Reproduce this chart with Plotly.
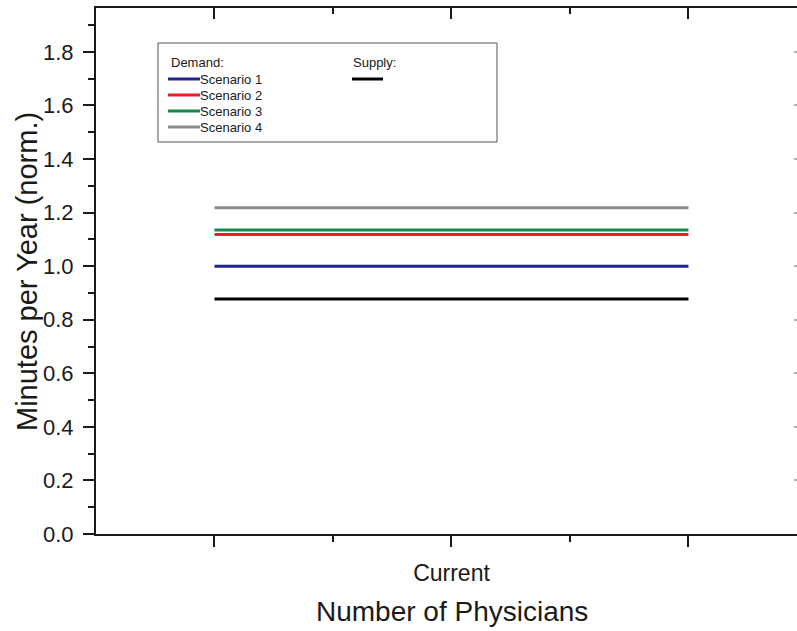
import plotly.graph_objects as go

x_vals = [0, 1, 2]
x_ticktext = ["", "Current", ""]
series_names = ["Scenario 1", "Scenario 2", "Scenario 3", "Scenario 4"]
scenario1 = [1.0, 1.0, 1.0]
scenario2 = [1.118, 1.118, 1.118]
scenario3 = [1.135, 1.135, 1.135]
scenario4 = [1.218, 1.218, 1.218]
supply = [0.877, 0.877, 0.877]
y_ticks = [0.0, 0.2, 0.4, 0.6, 0.8, 1.0, 1.2, 1.4, 1.6, 1.8]
colors = ["#22228c", "#e8202a", "#168a48", "#8c8c8c"]
supply_color = "#000000"

W, H = 797, 631
ML, MR, MT, MB = 96, 0, 8, 97
x_range = [-0.5, 2.458]
y_range = [0, 1.964]

fig = go.Figure()
demand = [scenario1, scenario2, scenario3, scenario4]
for name, vals, c in zip(series_names, demand, colors):
    fig.add_trace(go.Scatter(x=x_vals, y=vals, mode="lines", name=name,
                             line=dict(color=c, width=3), showlegend=False))
fig.add_trace(go.Scatter(x=x_vals, y=supply, mode="lines", name="Supply",
                         line=dict(color=supply_color, width=3), showlegend=False))

axis_color = "#1a1a1a"
font_family = "Liberation Sans, Arial, sans-serif"

fig.update_layout(
    width=W, height=H,
    margin=dict(l=ML, r=MR, t=MT, b=MB),
    plot_bgcolor="white", paper_bgcolor="white",
    font=dict(family=font_family, color="#1a1a1a"),
    xaxis=dict(
        range=x_range, tickvals=x_vals, ticktext=x_ticktext,
        showgrid=False, zeroline=False,
        showline=True, linecolor=axis_color, linewidth=2, mirror=True,
        ticks="outside", ticklen=11, tickwidth=2, tickcolor=axis_color,
        tickfont=dict(size=23), ticklabelstandoff=6,
        minor=dict(tickvals=[0.5, 1.5], ticks="outside", ticklen=6, tickwidth=2, tickcolor=axis_color),
    ),
    yaxis=dict(
        range=y_range, tickvals=y_ticks, ticktext=[f"{v:.1f}" for v in y_ticks],
        showgrid=False, zeroline=False,
        showline=True, linecolor=axis_color, linewidth=2,
        ticks="outside", ticklen=11, tickwidth=2, tickcolor=axis_color,
        tickfont=dict(size=22), ticklabelstandoff=5,
        minor=dict(dtick=0.1, tick0=0, ticks="outside", ticklen=6, tickwidth=2, tickcolor=axis_color),
    ),
    xaxis2=dict(
        overlaying="x", side="top", range=x_range, tickvals=x_vals,
        showticklabels=False, showgrid=False, zeroline=False, showline=True,
        linecolor=axis_color, linewidth=2,
        ticks="inside", ticklen=11, tickwidth=2, tickcolor=axis_color,
        minor=dict(tickvals=[0.5, 1.5], ticks="inside", ticklen=6, tickwidth=2, tickcolor=axis_color),
    ),
    yaxis2=dict(
        overlaying="y", side="right", range=y_range, tickvals=y_ticks,
        showticklabels=False, showgrid=False, zeroline=False, showline=False,
        ticks="inside", ticklen=3, tickwidth=2, tickcolor="#b0b0b0",
    ),
)
fig.add_trace(go.Scatter(x=[None], y=[None], xaxis="x2", yaxis="y2", showlegend=False, hoverinfo="skip"))

pw = W - ML - MR
ph = H - MT - MB
def px(x):
    return (x - ML) / pw
def py(y):
    return 1 - (y - MT) / ph

# axis titles
fig.add_annotation(xref="paper", yref="paper", x=px(27), y=py(272), text="Minutes per Year (norm.)",
                   textangle=-90, showarrow=False, xanchor="center", yanchor="middle",
                   font=dict(size=29))
fig.add_annotation(xref="paper", yref="paper", x=px(452), y=py(611), text="Number of Physicians",
                   showarrow=False, xanchor="center", yanchor="middle", font=dict(size=28))

# legend box
fig.add_shape(type="rect", xref="paper", yref="paper",
              x0=px(158), x1=px(497), y0=py(142), y1=py(43),
              line=dict(color="#555555", width=1), fillcolor="rgba(255,255,255,0)")
fig.add_annotation(xref="paper", yref="paper", x=px(169), y=py(63), text="Demand:",
                   showarrow=False, xanchor="left", yanchor="middle", font=dict(size=13))
fig.add_annotation(xref="paper", yref="paper", x=px(351), y=py(63), text="Supply:",
                   showarrow=False, xanchor="left", yanchor="middle", font=dict(size=13))
item_y = [79, 95, 111, 127]
for name, c, yy in zip(series_names, colors, item_y):
    fig.add_shape(type="line", xref="paper", yref="paper", x0=px(168), x1=px(200),
                  y0=py(yy), y1=py(yy), line=dict(color=c, width=3))
    fig.add_annotation(xref="paper", yref="paper", x=px(198), y=py(yy), text=name,
                       showarrow=False, xanchor="left", yanchor="middle", font=dict(size=13))
fig.add_shape(type="line", xref="paper", yref="paper", x0=px(352), x1=px(383),
              y0=py(79), y1=py(79), line=dict(color=supply_color, width=3))

fig.write_html("out.html", config={"displayModeBar": False},
               post_script="document.body.style.margin='0';document.body.style.overflow='hidden';document.documentElement.style.overflow='hidden';")
